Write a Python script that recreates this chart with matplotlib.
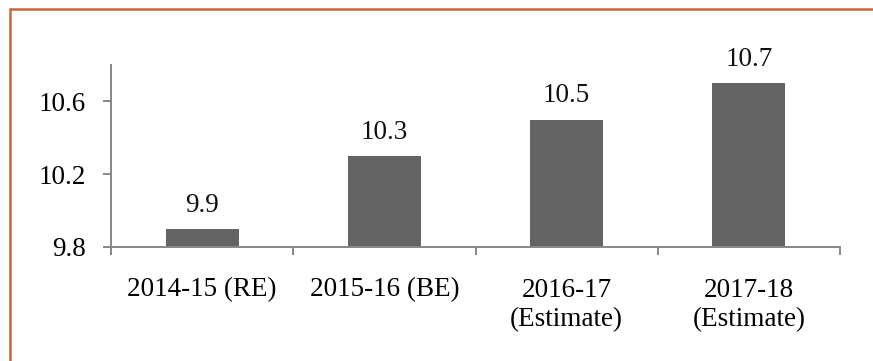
import matplotlib
matplotlib.use('Agg')
import matplotlib.pyplot as plt
from matplotlib.patches import Rectangle

# data
categories = ['2014-15 (RE)', '2015-16 (BE)', '2016-17\n(Estimate)', '2017-18\n(Estimate)']
values = [9.9, 10.3, 10.5, 10.7]
yticks = [9.8, 10.2, 10.6]

plt.rcParams['font.family'] = ['Liberation Serif', 'DejaVu Serif']
plt.rcParams['font.size'] = 19.5

W, H = 873, 361
fig = plt.figure(figsize=(W / 100, H / 100), dpi=100)
ax = fig.add_axes([111 / W, 1 - 247 / H, (840 - 111) / W, (247 - 65) / H])

axis_col = '#878787'
bar_col = '#646464'

x = list(range(len(categories)))
bars = ax.bar(x, [v - 9.8 for v in values], bottom=9.8, width=0.4, color=bar_col)

for xi, v in zip(x, values):
    ax.annotate(f'{v:.1f}', (xi, v), xytext=(0, 8), textcoords='offset points',
                ha='center', va='bottom', color='#111111')

ax.set_xlim(-0.5, len(categories) - 0.5)
ax.set_ylim(9.8, 10.8)
ax.set_yticks(yticks)
ax.set_yticklabels([f'{t:.1f}' for t in yticks])

# category labels sit between boundary ticks
ax.set_xticks([i - 0.5 for i in range(len(categories) + 1)])
ax.set_xticklabels([])
ax.set_xticks(x, minor=True)
ax.set_xticklabels(categories, minor=True, linespacing=1.25)
ax.tick_params(axis='x', which='minor', length=0, pad=22)
ax.tick_params(axis='x', which='major', length=6, width=1.4, color=axis_col, direction='out')
ax.tick_params(axis='y', length=6, width=1.4, color=axis_col, pad=12)

for s in ['top', 'right']:
    ax.spines[s].set_visible(False)
for s in ['left', 'bottom']:
    ax.spines[s].set_color(axis_col)
    ax.spines[s].set_linewidth(1.4)

# orange frame (only top and left edges visible in the crop)
fig.add_artist(Rectangle((9.5 / W, -0.2), 1.2, 1.2 - 8.5 / H,
                         transform=fig.transFigure, fill=False,
                         edgecolor='#C8643F', linewidth=1.8))

fig.savefig('out.png', dpi=100)
